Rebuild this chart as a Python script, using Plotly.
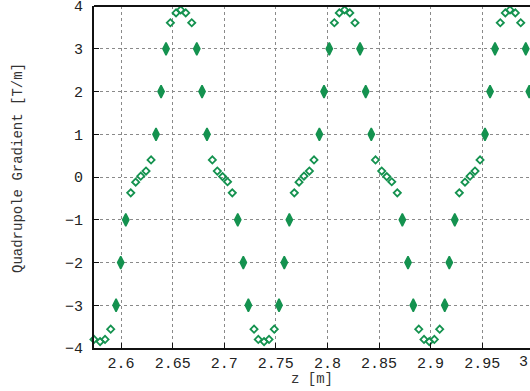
import plotly.graph_objects as go

# Longitudinal position along the beamline [m]
z_pos = [
    2.5738, 2.5797, 2.5845, 2.5900, 2.5952, 2.5997, 2.6046, 2.6094, 2.6142, 2.6191,
    2.6242, 2.6291, 2.6339, 2.6388, 2.6436, 2.6478, 2.6533, 2.6578, 2.6627, 2.6685,
    2.6734, 2.6785, 2.6833, 2.6885, 2.6933, 2.6984, 2.7032, 2.7078, 2.7131, 2.7185,
    2.7234, 2.7289, 2.7330, 2.7386, 2.7434, 2.7485, 2.7531, 2.7582, 2.7631, 2.7679,
    2.7725, 2.7773, 2.7825, 2.7870, 2.7922, 2.7967, 2.8018, 2.8067, 2.8115, 2.8166,
    2.8217, 2.8267, 2.8316, 2.8371, 2.8425, 2.8466, 2.8526, 2.8575, 2.8623, 2.8677,
    2.8726, 2.8781, 2.8832, 2.8885, 2.8936, 2.8987, 2.9036, 2.9088, 2.9137, 2.9181,
    2.9234, 2.9278, 2.9333, 2.9382, 2.9430, 2.9479, 2.9527, 2.9576, 2.9624, 2.9675,
    2.9724, 2.9769, 2.9821, 2.9873, 2.9922, 2.9956,
]

# Quadrupole gradient [T/m]
gradient = [
    -3.80, -3.85, -3.80, -3.56, -3.0, -2.0, -1.0, -0.37, -0.12, 0.02,
    0.14, 0.40, 1.0, 2.0, 3.0, 3.61, 3.84, 3.91, 3.84, 3.61,
    3.0, 2.0, 1.0, 0.40, 0.14, 0.01, -0.11, -0.37, -1.0, -2.0,
    -3.0, -3.56, -3.80, -3.85, -3.80, -3.56, -3.0, -2.0, -1.0, -0.37,
    -0.12, 0.02, 0.14, 0.40, 1.0, 2.0, 3.0, 3.61, 3.84, 3.91,
    3.84, 3.61, 3.0, 2.0, 1.0, 0.40, 0.14, 0.01, -0.11, -0.37,
    -1.0, -2.0, -3.0, -3.56, -3.80, -3.85, -3.80, -3.56, -3.0, -2.0,
    -1.0, -0.37, -0.12, 0.02, 0.14, 0.40, 1.0, 2.0, 3.0, 3.61,
    3.84, 3.91, 3.84, 3.61, 3.0, 2.0,
]

x_ticks = [2.6, 2.65, 2.7, 2.75, 2.8, 2.85, 2.9, 2.95]
x_ticktext = ["2.6", "2.65", "2.7", "2.75", "2.8", "2.85", "2.9", "2.95"]
y_ticks = [-4, -3, -2, -1, 0, 1, 2, 3, 4]

GREEN = "#14924f"
MONO = "Liberation Mono, Courier New, monospace"

# Samples sitting on whole-number levels are stacked repeats: draw them as solid tall blobs
on_level = [abs(g - round(g)) < 1e-9 and g != 0 for g in gradient]
blob_z = [z for z, f in zip(z_pos, on_level) if f]
blob_g = [g for g, f in zip(gradient, on_level) if f]
pt_z = [z for z, f in zip(z_pos, on_level) if not f]
pt_g = [g for g, f in zip(gradient, on_level) if not f]

fig = go.Figure()
fig.add_trace(go.Scatter(
    x=pt_z, y=pt_g, mode="markers", cliponaxis=False,
    marker=dict(symbol="diamond-open", size=5.5, color=GREEN, line=dict(width=1.8, color=GREEN)),
    showlegend=False,
))
fig.add_trace(go.Scatter(
    x=blob_z, y=blob_g, mode="markers", cliponaxis=False,
    marker=dict(symbol="diamond-tall", size=9, color=GREEN, line=dict(width=1.5, color=GREEN)),
    showlegend=False,
))

fig.update_layout(
    width=530, height=391,
    margin=dict(l=94, r=0, t=6, b=43),
    paper_bgcolor="white", plot_bgcolor="white",
    font=dict(family=MONO, size=14, color="#222"),
    xaxis=dict(
        range=[2.5738, 2.9963], tickvals=x_ticks, ticktext=x_ticktext,
        showgrid=True, gridcolor="#8a8a8a", gridwidth=1, griddash="dot",
        showline=True, linecolor="#111", linewidth=2,
        ticks="inside", ticklen=5, tickcolor="#111", zeroline=False,
        tickfont=dict(family=MONO, size=15, color="#222"),
    ),
    yaxis=dict(
        range=[-4, 4.002], tickvals=y_ticks,
        showgrid=True, gridcolor="#8a8a8a", gridwidth=1, griddash="dot",
        showline=True, linecolor="#111", linewidth=2,
        ticks="inside", ticklen=5, tickcolor="#111", zeroline=False,
        ticklabelstandoff=6,
        tickfont=dict(family=MONO, size=15, color="#222"),
    ),
    shapes=[dict(type="line", xref="paper", yref="paper", x0=0, x1=1, y0=1, y1=1,
                 line=dict(color="#111", width=2))],
    annotations=[
        dict(text="Quadrupole Gradient [T/m]", xref="paper", yref="paper",
             x=(18 - 94) / 436, y=(348 - 168) / 342, textangle=-90,
             showarrow=False, xanchor="center", yanchor="middle",
             font=dict(family=MONO, size=14, color="#333")),
        dict(text="z [m]", xref="paper", yref="paper",
             x=(312 - 94) / 436, y=-(379 - 348) / 342,
             showarrow=False, xanchor="center", yanchor="middle",
             font=dict(family=MONO, size=14, color="#333")),
        # top y label sits against the page edge, so place it explicitly
        dict(text="4", xref="paper", yref="paper",
             x=0, y=1, xshift=-9, yshift=-1,
             showarrow=False, xanchor="right", yanchor="middle",
             font=dict(family=MONO, size=15, color="#222")),
        dict(text="3", xref="paper", yref="paper",
             x=1.0, y=-(362 - 348) / 342,
             showarrow=False, xanchor="right", yanchor="middle",
             font=dict(family=MONO, size=15, color="#222")),
    ],
)

fig.write_html("out.html")
